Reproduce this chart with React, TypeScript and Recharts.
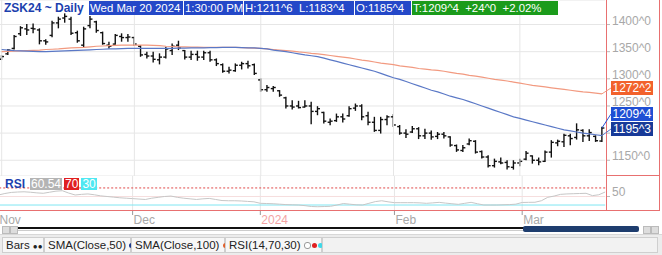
import React from 'react';
import { ComposedChart, LineChart, Bar, Line, XAxis, YAxis, CartesianGrid, ReferenceLine } from 'recharts';

const FONT = '"Liberation Sans", Arial, sans-serif';

// daily bars, Nov 1 2023 .. Mar 20 2024 (cents/bu, ^ = eighths)
const highs = [
  1343.7, 1355, 1380.7, 1397, 1400.8, 1402, 1393, 1373, 1407, 1414.4, 1420.6, 1414.4, 1388.7, 1396, 1415.6, 1407,
  1387, 1368.4, 1382.5, 1383.8, 1382.5, 1377.6, 1362, 1350, 1350, 1346.9, 1359, 1365.3, 1370.2, 1353, 1351.8, 1351.8,
  1351.8, 1351.8, 1337.6, 1328.4, 1322.3, 1328.4, 1331.5, 1333.3, 1328.4, 1300.7, 1288.4, 1286.6, 1279.2, 1266.9, 1260.7, 1259.5,
  1260.7, 1257.6, 1249.6, 1239.2, 1226.9, 1236, 1236, 1249.6, 1254.5, 1253.3, 1239.2, 1230, 1230, 1233, 1234.9, 1215,
  1207, 1213, 1211, 1208, 1205, 1202, 1202, 1194, 1179, 1178, 1190, 1187, 1168, 1159, 1153, 1155,
  1150, 1150, 1153, 1167, 1159, 1155, 1168, 1187, 1188, 1199, 1199, 1218, 1207, 1207, 1196, 1211.6,
];
const lows = [
  1334.5, 1344, 1354, 1379, 1380.7, 1384, 1363.5, 1362.8, 1376.4, 1393, 1403.4, 1380.7, 1366.5, 1358, 1393, 1385,
  1362.8, 1356, 1362.8, 1368.4, 1368.4, 1360.4, 1340.6, 1337.6, 1330, 1326.6, 1337.6, 1343.8, 1353, 1335.8, 1334.5, 1333.3,
  1334.5, 1331.5, 1323.5, 1311.2, 1310, 1313, 1317.3, 1319.2, 1306.9, 1276.1, 1276.1, 1276.1, 1266.9, 1245.4, 1243.5, 1245.4,
  1247.2, 1216.4, 1233, 1217.6, 1214.5, 1220.7, 1219.5, 1230, 1241, 1223.8, 1214.5, 1202.3, 1199.2, 1214.5, 1211.5, 1197,
  1191, 1200, 1189, 1189, 1188, 1189, 1190, 1175, 1165.4, 1165.4, 1177.7, 1162.3, 1153.1, 1136.5, 1136.5, 1142.6,
  1132.8, 1132.8, 1138.9, 1150, 1143.8, 1140.8, 1146.9, 1154.9, 1175.8, 1174.6, 1177.7, 1188.1, 1183.8, 1185.7, 1183.8, 1183.4,
];
const opens = [
  1336, 1346, 1356, 1383, 1392, 1393, 1390, 1370, 1380, 1403, 1412, 1410, 1385, 1362, 1398, 1405,
  1385, 1362, 1364, 1378, 1376, 1376, 1360, 1345, 1342, 1335, 1340, 1352, 1362, 1352, 1340, 1345,
  1340, 1348, 1335, 1326, 1314, 1315, 1325, 1328, 1326, 1298, 1280, 1282, 1278, 1265, 1250, 1250,
  1248, 1250, 1240, 1238, 1220, 1223, 1230, 1232, 1246, 1250, 1232, 1220, 1205, 1225, 1230, 1212,
  1200, 1202, 1208, 1195, 1200, 1194, 1198, 1193, 1177, 1168, 1180, 1185, 1166, 1156, 1140, 1147,
  1146, 1137, 1145, 1152, 1158, 1150, 1148, 1165, 1182, 1184, 1195, 1192, 1205, 1195, 1194, 1185.4,
];
const closes = [
  1341, 1353, 1378, 1394, 1390, 1392, 1370, 1368, 1403, 1410, 1415, 1384, 1370, 1392, 1410, 1389,
  1365, 1360, 1380, 1376, 1377, 1364, 1344, 1342, 1336, 1340, 1355, 1360, 1357, 1340, 1345, 1340,
  1348, 1335, 1328, 1314, 1316, 1325, 1328, 1324, 1310, 1280, 1284, 1284, 1270, 1250, 1248, 1247,
  1250, 1240, 1245, 1222, 1222, 1230, 1226, 1245, 1250, 1230, 1220, 1205, 1225, 1230, 1215, 1200,
  1198, 1208, 1195, 1200, 1193, 1198, 1195, 1178, 1169, 1173, 1186, 1165, 1156, 1140, 1148, 1145,
  1138, 1145, 1148, 1163, 1150, 1147, 1165, 1183, 1185, 1196, 1190, 1206, 1195, 1201, 1186, 1209.4,
];
const sma50 = [
  1354, 1353, 1352, 1351.5, 1351, 1350.5, 1350, 1350, 1350.5, 1351, 1351.5, 1352, 1352.5, 1353, 1353.5, 1354,
  1354.5, 1355, 1355, 1355.5, 1356, 1356, 1356, 1356, 1356, 1356, 1356, 1356, 1356.5, 1356.5, 1357, 1357,
  1357, 1357.5, 1357.5, 1358, 1358, 1358, 1357.5, 1357, 1357, 1356, 1355, 1353, 1351.5, 1350, 1348, 1346,
  1344, 1342.5, 1341, 1338, 1335, 1332, 1329, 1326, 1323, 1320, 1317, 1314, 1310, 1306, 1302, 1299,
  1295, 1291, 1287, 1283, 1279, 1276, 1272, 1268, 1265, 1262, 1258, 1254, 1250, 1246, 1242, 1238,
  1234, 1230, 1227, 1224, 1221, 1218, 1215, 1212, 1209, 1206, 1204, 1202, 1200, 1198.5, 1197, 1195.3,
];
const sma100 = [
  1350, 1350.5, 1351, 1351.5, 1352, 1352.5, 1353, 1354, 1354.5, 1355, 1356, 1357, 1357.5, 1358, 1359, 1360,
  1360.5, 1361, 1361.5, 1362, 1362, 1362, 1362, 1362, 1361.5, 1361, 1360, 1359.5, 1359, 1359, 1358.5, 1358.5,
  1358, 1358, 1358, 1358, 1358, 1358, 1357.5, 1357, 1356.5, 1356, 1355, 1354, 1353, 1352, 1351, 1349.5,
  1348.5, 1347, 1346, 1344.5, 1343, 1341.5, 1340, 1338.5, 1336.5, 1334.5, 1333, 1331, 1329, 1327.5, 1326, 1324,
  1322.5, 1321, 1319, 1318, 1316.5, 1315.5, 1314, 1312, 1310, 1308.5, 1306.5, 1305, 1303, 1301, 1299, 1297.5,
  1296, 1294, 1292, 1290, 1288, 1286.5, 1285, 1283.5, 1282, 1280.5, 1279, 1277.5, 1276, 1275, 1273.5, 1272.2,
];
const rsi = [
  53.5, 57, 59.5, 60.5, 61, 60, 58.5, 57.5, 60, 62.5, 63.5, 58, 53.5, 55, 56, 54,
  51.5, 50, 48.5, 47, 46, 45, 44, 43, 46, 48, 50, 51, 48, 46, 44.5, 43,
  44.5, 45.5, 43, 40.5, 40, 40, 39.5, 38.5, 37.5, 34, 33.5, 33, 32, 31, 30.5, 30,
  28.5, 26.5, 26, 26.5, 27, 30, 33.5, 32, 30.5, 30, 34, 38, 40, 37.5, 35.5, 35.5,
  35.5, 35.5, 35, 34, 35, 36.3, 34.5, 33, 31.6, 34, 36.3, 33, 30, 30, 30, 30.5,
  31, 32, 36, 36.3, 36.5, 40, 48, 51, 55, 56, 56.5, 57, 57.5, 52, 54, 60.54,
];

const monthTicks = [0, 21, 41, 62, 82];
const monthLabels = ['Nov', 'Dec', '2024', 'Feb', 'Mar'];
const priceTicks = [1150, 1200, 1250, 1300, 1350, 1400];

const data = highs.map((h, i) => ({
  i,
  high: h,
  low: lows[i],
  open: opens[i],
  close: closes[i],
  range: [lows[i], h],
  sma50: sma50[i],
  sma100: sma100[i],
  rsi: rsi[i],
}));

const RED = '#e87070';
const GRID = '#e6e6e6';

const OhlcShape = (props: any) => {
  const { x, y, width, height, payload } = props;
  const cx = x + width / 2;
  const top = Math.min(y, y + height);
  const h = Math.abs(height);
  const span = payload.high - payload.low || 1;
  const yo = top + ((payload.high - payload.open) / span) * h;
  const yc = top + ((payload.high - payload.close) / span) * h;
  return (
    <g stroke="#111" strokeWidth={1.4}>
      <line x1={cx} x2={cx} y1={top} y2={top + h} />
      <line x1={cx - 2.5} x2={cx} y1={yo} y2={yo} />
      <line x1={cx} x2={cx + 2.5} y1={yc} y2={yc} />
    </g>
  );
};

const PriceTick = (props: any) => {
  const { y, payload } = props;
  return (
    <g>
      <line x1={607} x2={610} y1={y} y2={y} stroke="#bbb" />
      <text x={612} y={y} fill="#a8a8a8" fontSize={12} fontFamily={FONT}>{`${payload.value}^0`}</text>
    </g>
  );
};

const RsiTick = (props: any) => {
  const { y, payload } = props;
  return (
    <g>
      <line x1={607} x2={610} y1={y} y2={y} stroke="#bbb" />
      <text x={612} y={y} fill="#a8a8a8" fontSize={12} fontFamily={FONT}>{payload.value}</text>
    </g>
  );
};

const MonthTick = (props: any) => {
  const { x, payload } = props;
  const k = monthTicks.indexOf(payload.value);
  const label = monthLabels[k];
  return (
    <g>
      <line x1={x} x2={x} y1={35} y2={39} stroke="#999" />
      <text x={x + 1} y={48} fill={label === '2024' ? '#f4a4a4' : '#a8a8a8'} fontSize={12} fontFamily={FONT}>{label}</text>
    </g>
  );
};

const box = (left: number, width: number, bg: string, text: string) => (
  <div style={{ position: 'absolute', left, top: 1, width, height: 14, background: bg, color: '#fff', fontSize: 11.4, lineHeight: '14px', paddingLeft: 1, boxSizing: 'border-box', whiteSpace: 'pre', overflow: 'hidden' }}>{text}</div>
);

const legendItem = (left: number, width: number, text: string, icon: React.ReactNode) => (
  <div style={{ position: 'absolute', left, top: 2, width, height: 16, border: '1px solid #cfcfcf', background: '#f7f7f7', boxSizing: 'border-box', fontSize: 11.5, lineHeight: '14px', color: '#222', paddingLeft: 3, whiteSpace: 'pre' }}>
    {text} {icon}
  </div>
);

const dot = (c: string, hollow = false) => (
  <span style={{ display: 'inline-block', width: 5, height: 5, borderRadius: 3, background: hollow ? '#fff' : c, border: hollow ? '1px solid #999' : 'none', marginRight: 1, verticalAlign: 'middle' }} />
);

export default function App() {
  return (
    <div style={{ position: 'relative', width: 662, height: 255, background: '#fff', fontFamily: FONT, overflow: 'hidden' }}>
      <style>{'body{margin:0}'}</style>

      {/* price panel */}
      <div style={{ position: 'absolute', left: 0, top: 0 }}>
        <ComposedChart width={662} height={176} data={data} margin={{ top: 0, right: 1.8, bottom: 0, left: -1.5 }} barCategoryGap={0}>
          <CartesianGrid horizontal vertical={false} stroke={GRID} />
          <XAxis dataKey="i" type="category" hide />
          <YAxis yAxisId={0} orientation="right" width={55} domain={[1121, 1445.2]} ticks={priceTicks} allowDataOverflow axisLine={false} tickLine={false} tick={<PriceTick />} />
          {monthTicks.map((t) => (
            <ReferenceLine key={t} x={t} stroke={GRID} />
          ))}
          <Line dataKey="sma100" stroke="#f29a80" strokeWidth={1.2} dot={false} isAnimationActive={false} />
          <Line dataKey="sma50" stroke="#5a78c6" strokeWidth={1.2} dot={false} isAnimationActive={false} />
          <Bar dataKey="range" shape={<OhlcShape />} isAnimationActive={false} />
        </ComposedChart>
      </div>

      {/* rsi panel */}
      <div style={{ position: 'absolute', left: 0, top: 176 }}>
        <LineChart width={662} height={55} data={data} margin={{ top: 0, right: 1.8, bottom: 0, left: -1.5 }}>
          <XAxis dataKey="i" type="category" ticks={monthTicks} interval={0} height={20} axisLine={false} tickLine={false} tick={<MonthTick />} />
          <YAxis orientation="right" width={55} domain={[16, 98]} ticks={[50]} allowDataOverflow axisLine={false} tickLine={false} tick={<RsiTick />} />
          {monthTicks.map((t) => (
            <ReferenceLine key={t} x={t} stroke={GRID} />
          ))}
          <ReferenceLine y={50} stroke="#f6dede" />
          <ReferenceLine y={70} stroke="#e04848" strokeDasharray="2 2" />
          <ReferenceLine y={30} stroke="#7fe6f2" />
          <Line dataKey="rsi" stroke="#c6c6c6" strokeWidth={1} dot={false} isAnimationActive={false} />
        </LineChart>
      </div>

      {/* frame of the value axis */}
      <div style={{ position: 'absolute', left: 606, top: 0, width: 1, height: 211, background: RED }} />
      <div style={{ position: 'absolute', left: 659, top: 0, width: 1, height: 211, background: RED }} />
      <div style={{ position: 'absolute', left: 606, top: 175, width: 54, height: 1, background: RED }} />
      <div style={{ position: 'absolute', left: 0, top: 210, width: 660, height: 1, background: RED }} />

      {/* leaders and last-value tags */}
      <svg style={{ position: 'absolute', left: 0, top: 0 }} width={662} height={211}>
        <line x1={602} y1={93.8} x2={611} y2={88} stroke="#f29a80" />
        <line x1={602} y1={127.9} x2={611} y2={114} stroke="#2a55d8" />
        <line x1={602} y1={135.5} x2={611} y2={129} stroke="#5a78c6" />
      </svg>
      <div style={{ position: 'absolute', left: 611, top: 81, width: 42, height: 14, background: '#f2622c', color: '#fff', fontSize: 12, lineHeight: '14px', textAlign: 'center' }}>1272^2</div>
      <div style={{ position: 'absolute', left: 611, top: 107, width: 42, height: 14, background: '#1f4fd4', color: '#fff', fontSize: 12, lineHeight: '14px', textAlign: 'center' }}>1209^4</div>
      <div style={{ position: 'absolute', left: 611, top: 122, width: 42, height: 14, background: '#183a98', color: '#fff', fontSize: 12, lineHeight: '14px', textAlign: 'center' }}>1195^3</div>

      {/* header */}
      <div style={{ position: 'absolute', left: 4, top: 1, height: 14, lineHeight: '14px', fontSize: 12, fontWeight: 'bold', color: '#1c3fae' }}>ZSK24 ~ Daily</div>
      {box(89, 94, '#2448c8', 'Wed Mar 20 2024')}
      {box(184, 59, '#2448c8', '1:30:00 PM')}
      {box(244, 110, '#2448c8', 'H:1211^6  L:1183^4')}
      {box(355, 56, '#2448c8', 'O:1185^4')}
      {box(412, 146, '#1b9b1b', 'T:1209^4  +24^0  +2.02%')}

      {/* rsi caption */}
      <div style={{ position: 'absolute', left: 5, top: 178, height: 12, fontSize: 12, lineHeight: '12px', display: 'flex', gap: 2 }}>
        <span style={{ color: '#1c3fae', fontWeight: 'bold', marginRight: 3 }}>RSI</span>
        <span style={{ background: '#b4b4b4', color: '#fff', padding: '0 1px' }}>60.54</span>
        <span style={{ background: '#e02020', color: '#fff', padding: '0 1px' }}>70</span>
        <span style={{ background: '#4fe8f2', color: '#fff', padding: '0 1px' }}>30</span>
      </div>

      {/* scrollbar */}
      <div style={{ position: 'absolute', left: 2, top: 226, width: 6, height: 6, background: '#ddd', border: '1px solid #bbb' }} />
      <div style={{ position: 'absolute', left: 10, top: 226, width: 6, height: 6, background: '#ddd', border: '1px solid #bbb' }} />
      <div style={{ position: 'absolute', left: 18, top: 227, width: 506, height: 2, background: '#111' }} />
      <div style={{ position: 'absolute', left: 18, top: 230, width: 506, height: 1, background: '#ccc' }} />
      <div style={{ position: 'absolute', left: 523, top: 226, width: 116, height: 6, background: '#1e3d6e', borderRadius: 2 }} />
      <div style={{ position: 'absolute', left: 643, top: 226, width: 6, height: 6, background: '#ddd', border: '1px solid #bbb' }} />
      <div style={{ position: 'absolute', left: 651, top: 226, width: 6, height: 6, background: '#ddd', border: '1px solid #bbb' }} />

      {/* legend bar */}
      <div style={{ position: 'absolute', left: 0, top: 234, width: 662, height: 21, background: '#ececec', borderTop: '1px solid #d8d8d8' }}>
        {legendItem(2, 42, 'Bars', <span style={{ fontSize: 8 }}>●●</span>)}
        {legendItem(44, 87, 'SMA(Close,50)', dot('#1c3a8c'))}
        {legendItem(131, 94, 'SMA(Close,100)', dot('#e0602c'))}
        {legendItem(225, 97, 'RSI(14,70,30)', <>{dot('#999', true)}{dot('#e02020')}{dot('#3fd8e8')}</>)}
        <div style={{ position: 'absolute', left: 322, top: 2, width: 336, height: 16, border: '1px solid #cfcfcf', background: '#f2f2f2', boxSizing: 'border-box' }} />
      </div>
    </div>
  );
}
